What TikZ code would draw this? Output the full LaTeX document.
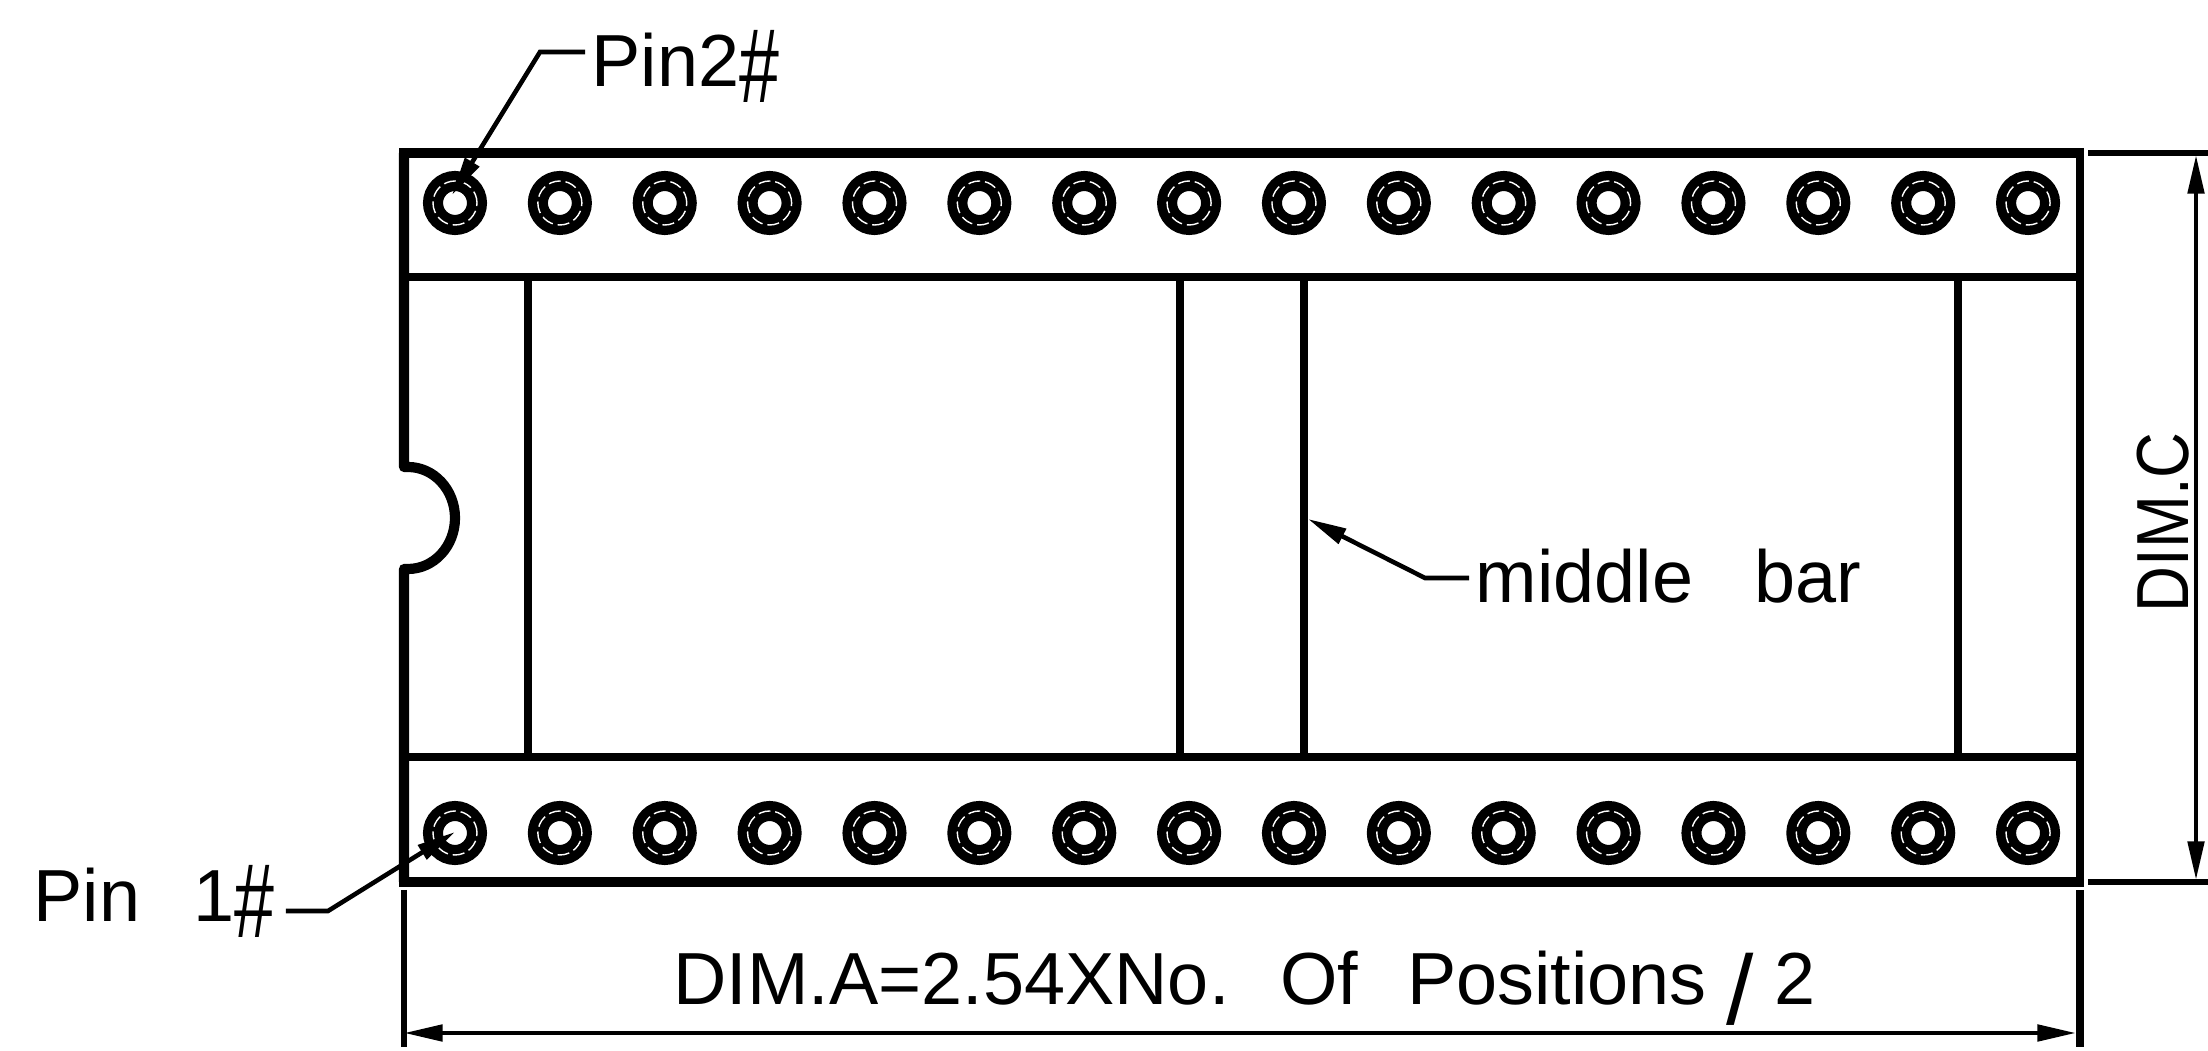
\documentclass[tikz,border=0pt]{standalone}
\usepackage{fontspec}
\setmainfont{Liberation Sans}
\usetikzlibrary{arrows.meta}
\newcommand{\bighash}{\raisebox{-4.4pt}{\scalebox{0.68}[1]{\fontsize{30}{30}\selectfont\#}}}
\newcommand{\bigslash}{\hspace{5.5pt}\raisebox{-5.5pt}{\fontsize{28}{28}\selectfont/}\hspace{6pt}}
\tikzset{
  outline/.style={line width=2.9pt},
  partition/.style={line width=2.2pt},
  extline/.style={line width=1.6pt},
  dimline/.style={line width=1.3pt,<->,>={Triangle[length=11pt,width=4.6pt]}},
  leader/.style={line width=1.3pt,->,>={Triangle[length=11pt,width=4.6pt]},line join=miter},
  label/.style={inner sep=0pt,anchor=base west,font=\fontsize{21}{25}\selectfont},
  pinhole/.style={circle,draw,line width=5.7pt,inner sep=0pt,minimum size=0.44cm},
  pinring/.style={white,line width=0.4pt,dash pattern=on 3.4pt off 1.4pt}
}
\begin{document}
\begin{tikzpicture}
\useasboundingbox (0,0) rectangle (22.08,10.51);
\draw[outline,line join=round] (4.04,1.69)--(4.04,4.82)--(4.08,4.82) arc[start angle=-90,end angle=90,x radius=0.47,y radius=0.51]--(4.04,5.84)--(4.04,8.98);
\draw[outline] (3.99,8.98)--(20.84,8.98);
\draw[outline] (3.99,1.69)--(20.84,1.69);
\draw[partition] (20.80,9.03)--(20.80,1.64);
\draw[partition] (4.04,7.74)--(20.80,7.74);
\draw[partition] (4.04,2.94)--(20.80,2.94);
\foreach \barx/\barname in {5.28/a,11.80/b,13.04/c,19.58/d}
  \draw[partition] (\barx,7.74)--(\barx,2.94);
\foreach \i in {1,...,16}{
  \pgfmathsetmacro{\pinx}{4.55+(\i-1)*1.0487}
  \node[pinhole] (top\i) at (\pinx,8.48) {};
  \node[pinhole] (bot\i) at (\pinx,2.18) {};
  \draw[pinring] (top\i) circle (0.22);
  \draw[pinring] (bot\i) circle (0.22);
}
\draw[extline] (4.04,1.61)--(4.04,0.04);
\draw[partition] (20.80,1.61)--(20.80,0.04);
\draw[extline] (20.88,8.98)--(22.08,8.98);
\draw[extline] (20.88,1.69)--(22.08,1.69);
\coordinate (wa) at (4.04,0.18);
\coordinate (ea) at (20.76,0.18);
\coordinate (nc) at (21.96,8.96);
\coordinate (sc) at (21.96,1.71);
\draw[dimline] (wa)--(ea);
\draw[dimline] (nc)--(sc);
\node[label] (pintwo) at (5.91,9.64) {Pin2\bighash};
\node[label] (pinone) at (0.33,1.29) {Pin\ \ \hspace{3.4pt}1\bighash};
\node[label] (midbar) at (14.75,4.48) {middle\ \ \ bar};
\node[label] (dima) at (6.73,0.46) {DIM.A=2.54XNo.\hspace{14.5pt}Of\hspace{13.9pt}Positions\bigslash 2};
\node[label,rotate=90] (dimc) at (21.88,4.38) {\scalebox{0.86}[1]{DIM.C}};
\coordinate (tiptwo) at (4.52,8.56);
\coordinate (kneetwo) at (5.40,9.99);
\coordinate (tipone) at (4.55,2.19);
\coordinate (kneeone) at (3.28,1.40);
\coordinate (tipbar) at (13.08,5.32);
\coordinate (kneebar) at (14.25,4.73);
\draw[leader] ([xshift=-0.06cm]pintwo.west |- kneetwo) -- (kneetwo) -- (tiptwo);
\draw[leader] ([xshift=0.11cm]pinone.east |- kneeone) -- (kneeone) -- (tipone);
\draw[leader] ([xshift=-0.06cm]midbar.west |- kneebar) -- (kneebar) -- (tipbar);
\end{tikzpicture}
\end{document}
